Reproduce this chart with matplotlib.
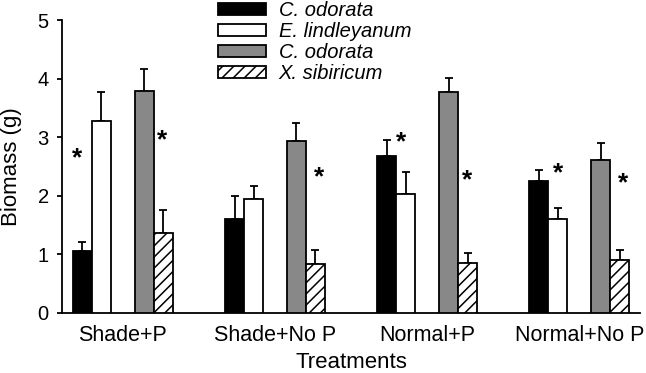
import matplotlib
matplotlib.use("Agg")
import matplotlib.pyplot as plt
import numpy as np

plt.rcParams['font.family'] = ['Liberation Sans', 'DejaVu Sans']
plt.rcParams['hatch.linewidth'] = 1.1

treatments = ["Shade+P", "Shade+No P", "Normal+P", "Normal+No P"]
series_labels = ["C. odorata", "E. lindleyanum", "C. odorata", "X. sibiricum"]
c_odorata_1 = [1.06, 1.61, 2.68, 2.25]
c_odorata_1_err = [0.16, 0.39, 0.27, 0.19]
e_lindleyanum = [3.27, 1.95, 2.03, 1.60]
e_lindleyanum_err = [0.50, 0.22, 0.38, 0.19]
c_odorata_2 = [3.79, 2.94, 3.78, 2.62]
c_odorata_2_err = [0.37, 0.30, 0.24, 0.29]
x_sibiricum = [1.37, 0.84, 0.86, 0.91]
x_sibiricum_err = [0.38, 0.24, 0.16, 0.16]

# significance stars: (group index, x offset within group, y value)
star_group = [0, 0, 1, 2, 2, 3, 3]
star_offset = [-0.30, 0.26, 0.29, -0.17, 0.26, -0.14, 0.29]
star_y = [2.64, 2.95, 2.32, 2.92, 2.27, 2.38, 2.22]

fig = plt.figure(figsize=(6.46, 3.73), dpi=100)
ax = fig.add_axes([0.096, 0.161, 0.895, 0.785])

x = np.arange(len(treatments))
w = 0.125
offsets = [-0.266, -0.141, 0.141, 0.266]
styles = [
    dict(facecolor='black', hatch=None),
    dict(facecolor='white', hatch=None),
    dict(facecolor='#888888', hatch=None),
    dict(facecolor='white', hatch='///'),
]
vals = [c_odorata_1, e_lindleyanum, c_odorata_2, x_sibiricum]
errs = [c_odorata_1_err, e_lindleyanum_err, c_odorata_2_err, x_sibiricum_err]
handles = []
for i in range(4):
    b = ax.bar(x + offsets[i], vals[i], w, color=styles[i]['facecolor'],
               edgecolor='black', linewidth=1.3, hatch=styles[i]['hatch'],
               label=series_labels[i], zorder=3)
    ax.errorbar(x + offsets[i], vals[i], yerr=[np.zeros(4), errs[i]],
                fmt='none', ecolor='black', elinewidth=1.3, capsize=3,
                capthick=1.3, zorder=2)
    handles.append(b)

for g, o, yv in zip(star_group, star_offset, star_y):
    ax.text(x[g] + o, yv, "*", ha='center', va='center', fontsize=19,
            fontweight='bold')

ax.set_xlim(-0.40, 3.40)
ax.set_ylim(0, 5)
ax.set_yticks([0, 1, 2, 3, 4, 5])
ax.set_xticks(x)
ax.set_xticklabels(treatments, fontsize=15.5)
ax.tick_params(axis='x', length=0, pad=9)
ax.tick_params(axis='y', labelsize=14.5, length=3.5, width=1.3,
               direction='out', pad=6)
for s in ['top', 'right']:
    ax.spines[s].set_visible(False)
for s in ['left', 'bottom']:
    ax.spines[s].set_linewidth(1.3)
ax.set_ylabel("Biomass (g)", fontsize=16, labelpad=11)
ax.set_xlabel("Treatments", fontsize=16, labelpad=4)

leg = fig.legend(handles=handles, labels=series_labels,
                 loc='upper left', bbox_to_anchor=(0.316, 1.035),
                 frameon=False, fontsize=14.5, handlelength=2.35,
                 handleheight=0.5, labelspacing=0.1, handletextpad=0.65,
                 borderpad=0.2)
for t in leg.get_texts():
    t.set_fontstyle('italic')

fig.savefig("out.png", dpi=100)
